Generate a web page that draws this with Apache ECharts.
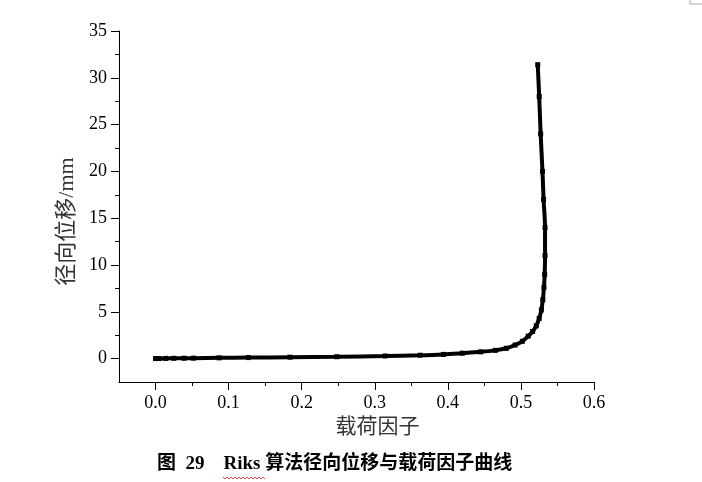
<!DOCTYPE html>
<html><head><meta charset="utf-8">
<script src="https://cdn.jsdelivr.net/npm/echarts@6/dist/echarts.min.js"></script>
<style>html,body{margin:0;padding:0;background:#fff}#c{width:702px;height:482px}</style>
</head><body><div id="c"></div>
<script>
// Data
const loadFactor = [0, 0.005, 0.014, 0.025, 0.039, 0.052, 0.087, 0.127, 0.184, 0.248, 0.314, 0.362, 0.394, 0.42, 0.445, 0.465, 0.48, 0.492, 0.502, 0.51, 0.516, 0.521, 0.525, 0.528, 0.530, 0.5315, 0.5325, 0.533, 0.533, 0.531, 0.5295, 0.527, 0.525, 0.523];
const displacement = [0, 0.01, 0.02, 0.03, 0.04, 0.05, 0.08, 0.11, 0.15, 0.2, 0.28, 0.36, 0.45, 0.58, 0.72, 0.88, 1.1, 1.45, 1.85, 2.4, 2.9, 3.5, 4.3, 5.2, 6.3, 7.6, 9, 11, 14, 17, 20, 24, 28, 31.4];
const xMajorTicks = [0, 0.1, 0.2, 0.3, 0.4, 0.5, 0.6];
const xMinorTicks = [0.05, 0.15, 0.25, 0.35, 0.45, 0.55];
const yMajorTicks = [0, 5, 10, 15, 20, 25, 30, 35];
const yMinorTicks = [2.5, 7.5, 12.5, 17.5, 22.5, 27.5, 32.5];
const xName = '载荷因子';
const yName = '径向位移/mm';
const caption = '图  29    Riks 算法径向位移与载荷因子曲线';

const serif = '"Liberation Serif", "Times New Roman", serif';
const cjk = '"Liberation Serif", "Noto Sans CJK SC", sans-serif';
const X_MIN = -0.05, X_MAX = 0.6, Y_MIN = -2.5, Y_MAX = 35;

function tickAxis(values, len, extra) {
  return Object.assign({
    type: 'value',
    axisLine: {show: false, onZero: false},
    splitLine: {show: false},
    axisLabel: {show: false},
    axisTick: {show: true, length: len, customValues: values, lineStyle: {color: '#000', width: 1}}
  }, extra);
}

const chart = echarts.init(document.getElementById('c'), null, {renderer: 'canvas'});
chart.setOption({
  animation: false,
  backgroundColor: '#fff',
  title: {
    text: caption,
    left: 157, top: 455, padding: 0,
    textStyle: {fontFamily: '"Liberation Serif", "Noto Sans CJK SC", serif', fontSize: 19, fontWeight: 'bold', color: '#000'}
  },
  grid: {left: 119, right: 108, top: 31, bottom: 100, containLabel: false},
  xAxis: [{
    type: 'value', min: X_MIN, max: X_MAX, position: 'bottom',
    axisLine: {show: true, onZero: false, lineStyle: {color: '#000', width: 1}},
    splitLine: {show: false},
    axisTick: {show: false},
    axisLabel: {show: true, customValues: xMajorTicks, margin: 12, color: '#000', fontFamily: serif, fontSize: 18,
      formatter: v => v.toFixed(1)},
    name: xName, nameLocation: 'middle', nameGap: 31,
    nameTextStyle: {fontFamily: cjk, fontSize: 21, color: '#333', padding: [0, 0, 0, 42]}
  },
    tickAxis(xMajorTicks, 8, {min: X_MIN, max: X_MAX, position: 'bottom'}),
    tickAxis(xMinorTicks, 4, {min: X_MIN, max: X_MAX, position: 'bottom'})
  ],
  yAxis: [{
    type: 'value', min: Y_MIN, max: Y_MAX, position: 'left',
    axisLine: {show: true, onZero: false, lineStyle: {color: '#000', width: 1}},
    splitLine: {show: false},
    axisTick: {show: false},
    axisLabel: {show: true, customValues: yMajorTicks, margin: 12, color: '#000', fontFamily: serif, fontSize: 18},
    name: yName, nameLocation: 'middle', nameGap: 36, nameRotate: 90,
    nameTextStyle: {fontFamily: cjk, fontSize: 22, color: '#333', padding: [0, 30, 0, 0]}
  },
    tickAxis(yMajorTicks, 8, {min: Y_MIN, max: Y_MAX, position: 'left'}),
    tickAxis(yMinorTicks, 4, {min: Y_MIN, max: Y_MAX, position: 'left'})
  ],
  series: [{
    type: 'line',
    xAxisIndex: 0, yAxisIndex: 0,
    data: loadFactor.map((x, i) => [x, displacement[i]]),
    lineStyle: {color: '#000', width: 4},
    itemStyle: {color: '#000'},
    symbol: 'rect', symbolSize: 5, showAllSymbol: true,
    smooth: 0.3
  }],
  graphic: [
    {type: 'polyline', shape: {points: [[690, 0], [690, 4], [702, 4]]}, style: {stroke: '#aaa', fill: null, lineWidth: 1}},
    {type: 'polyline', shape: {points: [[223,477],[225,479],[227,477],[229,479],[231,477],[233,479],[235,477],[237,479],[239,477],[241,479],[243,477],[245,479],[247,477],[249,479],[251,477],[253,479],[255,477],[257,479],[259,477],[261,479],[263,477],[265,479]]},
     style: {stroke: '#d22', fill: null, lineWidth: 0.8}}
  ]
});
</script></body></html>
